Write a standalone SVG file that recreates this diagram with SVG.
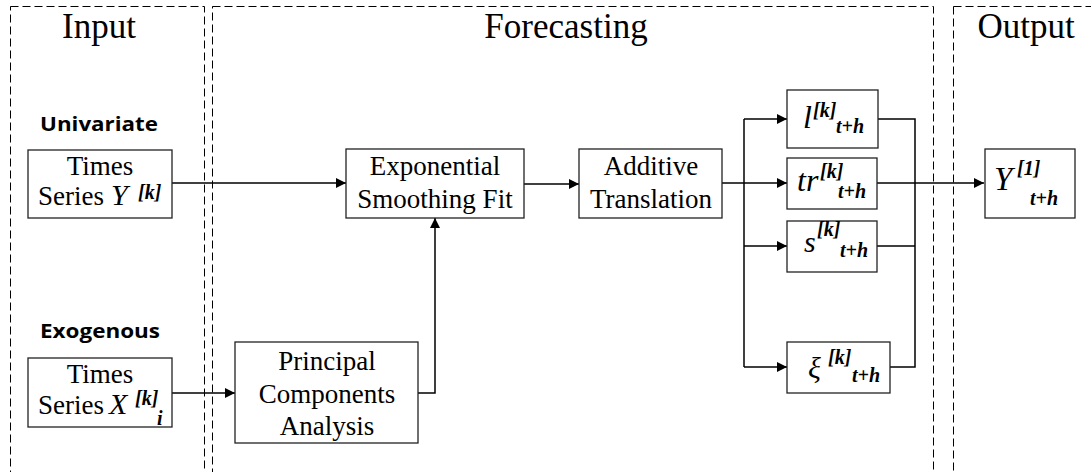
<svg xmlns="http://www.w3.org/2000/svg" width="1091" height="472" viewBox="0 0 1091 472">
<style>
.panel{fill:none;stroke:#000;stroke-width:1;stroke-dasharray:8,4}
.box{fill:#fff;stroke:#222;stroke-width:1.3}
.title{font-family:"Liberation Serif",serif;font-size:35px;fill:#000;text-anchor:middle}
.t{font-family:"Liberation Serif",serif;font-size:27px;fill:#000;text-anchor:middle}
.ts{font-family:"Liberation Serif",serif;font-size:27px;fill:#000;text-anchor:start}
.lab{font-family:"Open Sans","Liberation Sans",sans-serif;font-weight:bold;font-size:20px;fill:#000}
.m{font-family:"Liberation Serif",serif;font-style:italic;fill:#000}
.sb{font-family:"Liberation Serif",serif;font-style:italic;font-weight:bold;font-size:20px;fill:#000}
.c{fill:none;stroke:#000;stroke-width:1.5}
</style>
<defs>
<marker id="ah" viewBox="0 0 10 10" refX="10" refY="5" markerWidth="10" markerHeight="10" markerUnits="userSpaceOnUse" orient="auto">
<path d="M0,0 L10,5 L0,10 Z" fill="#000"/>
</marker>
</defs>

<g id="panels">
<rect class="panel" x="10.5" y="6.5" width="194" height="480"/>
<rect class="panel" x="212.5" y="6.5" width="721" height="480"/>
<rect class="panel" x="953.5" y="6.5" width="160" height="480"/>
<text class="title" x="99" y="38">Input</text>
<text class="title" x="566" y="38">Forecasting</text>
<text class="title" x="1026" y="38">Output</text>
<text class="lab" x="40" y="131" textLength="118" lengthAdjust="spacingAndGlyphs">Univariate</text>
<text class="lab" x="40" y="338" textLength="120" lengthAdjust="spacingAndGlyphs">Exogenous</text>
</g>

<g id="connectors">
<path class="c" d="M172,183 H346" marker-end="url(#ah)"/>
<path class="c" d="M172,393 H235" marker-end="url(#ah)"/>
<path class="c" d="M418,393 H435 V218" marker-end="url(#ah)"/>
<path class="c" d="M524,184 H579" marker-end="url(#ah)"/>
<path class="c" d="M722,183 H787" marker-end="url(#ah)"/>
<path class="c" d="M744,119 V367"/>
<path class="c" d="M744,119 H787" marker-end="url(#ah)"/>
<path class="c" d="M744,246 H787" marker-end="url(#ah)"/>
<path class="c" d="M744,367 H787" marker-end="url(#ah)"/>
<path class="c" d="M878,119 H915 V367 H890"/>
<path class="c" d="M877,246 H915"/>
<path class="c" d="M877,183 H984" marker-end="url(#ah)"/>
</g>

<g id="ts-y">
<rect class="box" x="28" y="150" width="144" height="68"/>
<text class="t" x="100" y="175">Times</text>
<text class="ts" x="38" y="205">Series</text>
<text class="m" x="111" y="205" font-size="30">Y</text>
<text class="sb" x="138" y="199" font-size="19">[k]</text>
</g>

<g id="ts-x">
<rect class="box" x="28" y="358" width="144" height="69"/>
<text class="t" x="100" y="383">Times</text>
<text class="ts" x="38" y="414">Series</text>
<text class="m" x="109" y="414" font-size="30">X</text>
<text class="sb" x="135" y="405" font-size="19">[k]</text>
<text class="sb" x="157" y="425" font-size="19">i</text>
</g>

<g id="exp">
<rect class="box" x="346" y="149" width="178" height="69"/>
<text class="t" x="435" y="175">Exponential</text>
<text class="t" x="435" y="208">Smoothing Fit</text>
</g>

<g id="add">
<rect class="box" x="579" y="149" width="143" height="69"/>
<text class="t" x="651" y="175">Additive</text>
<text class="t" x="651" y="208">Translation</text>
</g>

<g id="pca">
<rect class="box" x="235" y="342" width="183" height="101"/>
<text class="t" x="327" y="370">Principal</text>
<text class="t" x="327" y="403">Components</text>
<text class="t" x="327" y="435">Analysis</text>
</g>

<g id="level">
<rect class="box" x="787" y="90" width="91" height="58"/>
<text class="m" x="803" y="128" font-size="32">l</text>
<text class="sb" x="813" y="117">[k]</text>
<text class="sb" x="836" y="133">t+h</text>
</g>

<g id="trend">
<rect class="box" x="787" y="158" width="90" height="51"/>
<text class="m" x="797" y="191" font-size="32">tr</text>
<text class="sb" x="820" y="178">[k]</text>
<text class="sb" x="838" y="198">t+h</text>
</g>

<g id="season">
<rect class="box" x="787" y="221" width="90" height="51"/>
<text class="m" x="804" y="252" font-size="30">s</text>
<text class="sb" x="817" y="236">[k]</text>
<text class="sb" x="840" y="257">t+h</text>
</g>

<g id="error">
<rect class="box" x="787" y="342" width="103" height="51"/>
<text class="m" x="808" y="378" font-size="30">ξ</text>
<text class="sb" x="828" y="364">[k]</text>
<text class="sb" x="852" y="382">t+h</text>
</g>

<g id="out">
<rect class="box" x="985" y="149" width="90" height="69"/>
<text class="m" x="994" y="190" font-size="33">Y</text>
<text class="sb" x="1017" y="175">[1]</text>
<text class="sb" x="1030" y="205">t+h</text>
</g>
</svg>
